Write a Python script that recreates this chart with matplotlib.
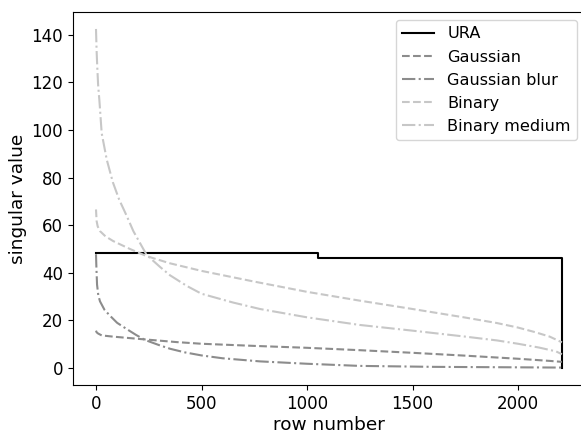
import matplotlib
matplotlib.use("Agg")
import matplotlib.pyplot as plt

# Data (row index, singular value)
ura_rows = [0, 1054, 1054, 2208, 2208]
ura_vals = [48.2, 48.2, 46.1, 46.1, 0.0]

gauss_rows = [0, 3, 10, 27, 80, 208, 382, 500, 750, 1000, 1250, 1500, 1750, 2000, 2150, 2208]
gauss_vals = [15.7, 15.0, 14.5, 13.7, 13.2, 12.2, 10.9, 10.2, 9.3, 8.5, 7.5, 6.4, 5.2, 3.9, 3.0, 2.6]

blur_rows = [0, 2, 5, 11, 19, 40, 66, 100, 145, 190, 232, 300, 351, 420, 500, 600, 777, 1000, 1250, 1600, 2000, 2208]
blur_vals = [47.8, 42.0, 35.0, 30.5, 28.0, 24.5, 22.0, 19.0, 16.4, 13.9, 11.8, 9.6, 8.1, 6.6, 5.3, 4.1, 2.8, 1.8, 0.9, 0.5, 0.3, 0.2]

bin_rows = [0, 3, 8, 19, 45, 82, 161, 240, 350, 500, 750, 1000, 1250, 1500, 1750, 1900, 2000, 2080, 2150, 2208]
bin_vals = [66.6, 61.7, 59.5, 57.5, 55.3, 53.3, 50.0, 47.0, 44.0, 40.8, 36.3, 32.0, 28.3, 24.8, 21.2, 18.9, 17.0, 15.1, 13.2, 10.8]

binmed_rows = [0, 3, 6, 10, 16, 27, 51, 80, 110, 145, 177, 240, 303, 350, 430, 500, 650, 777, 1000, 1250, 1500, 1750, 1900, 2000, 2100, 2180, 2208]
binmed_vals = [142.4, 133.0, 126.5, 119.0, 112.5, 98.6, 87.5, 78.0, 70.7, 64.0, 57.5, 47.5, 42.5, 39.0, 34.5, 31.2, 27.5, 24.8, 21.3, 18.1, 15.7, 13.2, 11.6, 10.2, 8.6, 7.0, 5.8]

labels = ["URA", "Gaussian", "Gaussian blur", "Binary", "Binary medium"]

fig = plt.figure(figsize=(5.81, 4.33), dpi=100)
ax = fig.add_axes([72.7 / 581, 48 / 433, (585.2 - 72.7) / 581, (385 - 12) / 433])

lw = 1.5
mid = "0.55"
light = "0.78"
ax.plot(ura_rows, ura_vals, color="black", lw=lw, ls="-", label=labels[0])
ax.plot(gauss_rows, gauss_vals, color=mid, lw=lw, ls="--", label=labels[1])
ax.plot(blur_rows, blur_vals, color=mid, lw=lw, ls="-.", label=labels[2])
ax.plot(bin_rows, bin_vals, color=light, lw=lw, ls="--", label=labels[3])
ax.plot(binmed_rows, binmed_vals, color=light, lw=lw, ls="-.", label=labels[4])

ax.set_xticks([0, 500, 1000, 1500, 2000])
ax.set_yticks([0, 20, 40, 60, 80, 100, 120, 140])
ax.tick_params(labelsize=12)
ax.set_xlabel("row number", fontsize=13.3, labelpad=2.5)
ax.set_ylabel("singular value", fontsize=13.3, labelpad=3)
ax.legend(loc="upper right", fontsize=11.6)

fig.savefig("out.png", dpi=100)
